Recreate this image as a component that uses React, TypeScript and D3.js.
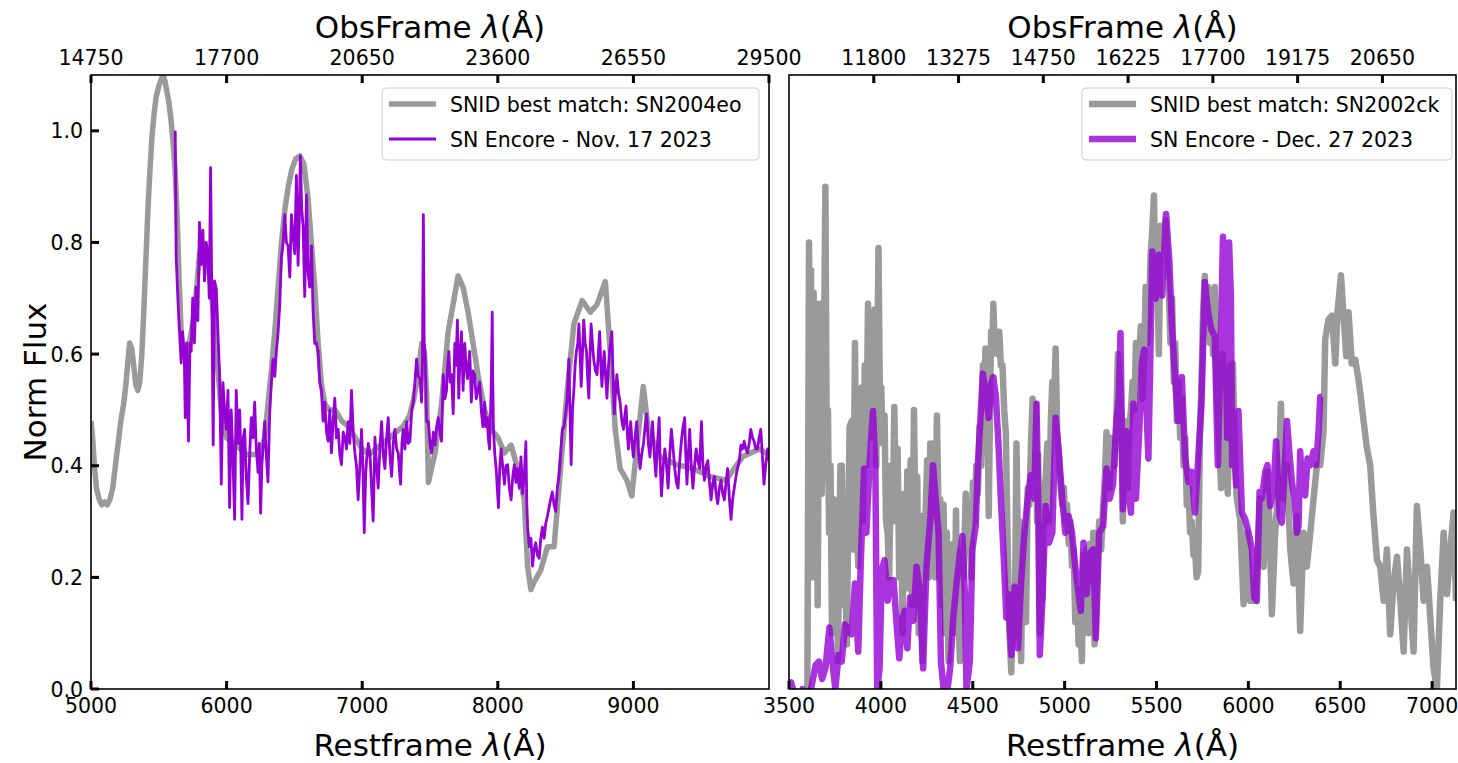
import React from 'react';
import * as d3 from 'd3';

type Pt = [number, number];

// ---------- ticks ----------
const Y_TICKS = [0, 0.2, 0.4, 0.6, 0.8, 1.0];
const LEFT_REST_TICKS = [5000, 6000, 7000, 8000, 9000];
const LEFT_OBS_TICKS = [14750, 17700, 20650, 23600, 26550, 29500];
const RIGHT_REST_TICKS = [3500, 4000, 4500, 5000, 5500, 6000, 6500, 7000];
const RIGHT_OBS_TICKS = [11800, 13275, 14750, 16225, 17700, 19175, 20650];

// ---------- left panel: SN2004eo template ----------
const leftTemplate: Pt[] = [
  [5000,0.48],[5012,0.45],[5025,0.40],[5040,0.36],[5060,0.34],[5080,0.33],[5100,0.335],[5120,0.33],[5140,0.34],
  [5160,0.36],[5180,0.40],[5200,0.44],[5220,0.48],[5240,0.51],[5255,0.54],[5270,0.58],[5285,0.62],[5300,0.61],
  [5315,0.58],[5330,0.545],[5345,0.535],[5360,0.55],[5375,0.60],[5390,0.68],[5405,0.77],[5420,0.86],[5435,0.93],
  [5450,0.99],[5465,1.03],[5480,1.06],[5500,1.08],[5515,1.09],[5530,1.10],[5545,1.09],[5560,1.07],[5575,1.05],
  [5590,1.02],[5605,0.98],[5620,0.93],[5635,0.85],[5650,0.73],[5665,0.64],[5680,0.60],[5700,0.59],[5720,0.61],
  [5740,0.64],[5760,0.67],[5780,0.72],[5800,0.78],[5820,0.80],[5840,0.78],[5860,0.76],[5880,0.73],[5900,0.68],
  [5920,0.62],[5940,0.56],[5960,0.50],[5980,0.47],[6000,0.45],[6050,0.44],[6100,0.43],[6150,0.42],[6200,0.42],
  [6250,0.42],[6280,0.45],[6305,0.51],[6330,0.57],[6355,0.64],[6380,0.72],[6405,0.80],[6430,0.86],[6455,0.90],
  [6480,0.93],[6510,0.95],[6540,0.955],[6570,0.94],[6600,0.88],[6625,0.80],[6650,0.72],[6675,0.62],[6700,0.545],
  [6725,0.51],[6760,0.50],[6800,0.50],[6850,0.48],[6900,0.47],[6950,0.45],[7000,0.43],[7050,0.42],[7100,0.43],
  [7150,0.44],[7200,0.45],[7250,0.46],[7300,0.47],[7350,0.49],[7380,0.52],[7410,0.56],[7440,0.62],[7460,0.60],
  [7475,0.53],[7488,0.37],[7537,0.423],[7585,0.51],[7634,0.64],[7671,0.69],[7707,0.74],[7744,0.72],[7781,0.675],
  [7817,0.62],[7854,0.563],[7902,0.50],[7951,0.465],[8000,0.451],[8049,0.423],[8098,0.437],[8146,0.395],
  [8195,0.339],[8220,0.22],[8244,0.178],[8268,0.192],[8317,0.213],[8366,0.255],[8415,0.255],[8463,0.395],
  [8512,0.535],[8561,0.654],[8622,0.696],[8683,0.675],[8732,0.689],[8793,0.73],[8829,0.605],[8866,0.465],
  [8902,0.395],[8951,0.374],[8988,0.346],[9024,0.43],[9073,0.542],[9110,0.465],[9195,0.416],[9317,0.402],
  [9439,0.395],[9561,0.381],[9683,0.374],[9805,0.416],[9927,0.43],[10000,0.42],
];

// ---------- left panel: SN Encore Nov. 17 2023 ----------
const leftEncore: Pt[] = [
  [5621,1.0],[5628,0.773],[5645,0.675],[5665,0.584],[5675,0.64],[5688,0.60],[5695,0.486],[5705,0.62],[5719,0.444],
  [5730,0.62],[5739,0.605],[5750,0.70],[5763,0.62],[5775,0.72],[5788,0.66],[5800,0.836],[5812,0.76],[5825,0.822],
  [5837,0.731],[5850,0.80],[5862,0.78],[5872,0.70],[5882,0.934],[5892,0.675],[5901,0.437],[5911,0.731],[5924,0.717],
  [5936,0.64],[5948,0.563],[5961,0.367],[5973,0.549],[5985,0.50],[5998,0.465],[6010,0.535],[6022,0.325],[6034,0.50],
  [6046,0.42],[6059,0.304],[6071,0.535],[6084,0.44],[6096,0.50],[6105,0.42],[6113,0.304],[6123,0.45],[6133,0.465],
  [6145,0.38],[6158,0.332],[6170,0.42],[6182,0.486],[6195,0.45],[6207,0.514],[6219,0.43],[6232,0.388],[6241,0.44],
  [6251,0.315],[6260,0.40],[6268,0.43],[6281,0.479],[6293,0.42],[6305,0.371],[6318,0.493],[6330,0.55],[6342,0.591],
  [6355,0.56],[6367,0.605],[6380,0.64],[6392,0.689],[6404,0.773],[6417,0.80],[6429,0.85],[6441,0.80],[6453,0.794],
  [6466,0.738],[6478,0.85],[6490,0.815],[6502,0.78],[6515,0.92],[6527,0.759],[6536,0.84],[6544,0.955],[6554,0.86],
  [6564,0.829],[6576,0.703],[6589,0.885],[6601,0.745],[6613,0.72],[6626,0.794],[6638,0.675],[6650,0.619],[6662,0.62],
  [6675,0.605],[6687,0.55],[6699,0.535],[6712,0.48],[6724,0.514],[6737,0.46],[6749,0.444],[6761,0.50],[6773,0.423],
  [6786,0.48],[6798,0.521],[6810,0.45],[6823,0.465],[6835,0.42],[6847,0.402],[6860,0.46],[6872,0.451],[6884,0.43],
  [6897,0.479],[6909,0.44],[6921,0.535],[6934,0.46],[6946,0.423],[6958,0.40],[6970,0.339],[6983,0.40],[6995,0.465],
  [7005,0.40],[7015,0.28],[7025,0.38],[7032,0.409],[7045,0.44],[7057,0.423],[7069,0.36],[7081,0.301],[7094,0.451],
  [7106,0.40],[7118,0.36],[7130,0.43],[7143,0.479],[7155,0.42],[7167,0.395],[7180,0.45],[7192,0.486],[7204,0.42],
  [7217,0.381],[7229,0.44],[7241,0.465],[7254,0.43],[7266,0.423],[7275,0.39],[7283,0.367],[7293,0.44],[7303,0.465],
  [7315,0.43],[7328,0.479],[7340,0.44],[7352,0.444],[7365,0.50],[7377,0.514],[7389,0.55],[7401,0.591],[7414,0.56],
  [7426,0.556],[7438,0.514],[7445,0.60],[7451,0.85],[7457,0.62],[7463,0.605],[7475,0.479],[7488,0.479],[7500,0.44],
  [7512,0.423],[7525,0.46],[7537,0.437],[7549,0.47],[7561,0.486],[7573,0.46],[7585,0.444],[7598,0.563],[7610,0.52],
  [7622,0.535],[7630,0.58],[7639,0.605],[7649,0.55],[7659,0.563],[7671,0.493],[7683,0.619],[7692,0.58],[7702,0.661],
  [7712,0.521],[7722,0.60],[7732,0.64],[7744,0.535],[7756,0.619],[7766,0.58],[7776,0.556],[7793,0.605],[7805,0.514],
  [7817,0.57],[7829,0.563],[7841,0.52],[7854,0.535],[7866,0.55],[7878,0.50],[7890,0.47],[7902,0.514],[7912,0.47],
  [7922,0.486],[7930,0.45],[7939,0.43],[7951,0.535],[7955,0.60],[7959,0.675],[7963,0.55],[7968,0.465],[7978,0.42],
  [7988,0.395],[7996,0.36],[8005,0.325],[8015,0.40],[8024,0.43],[8036,0.40],[8049,0.367],[8061,0.40],[8073,0.402],
  [8085,0.36],[8098,0.339],[8110,0.38],[8122,0.402],[8134,0.37],[8146,0.395],[8158,0.36],[8171,0.416],[8183,0.35],
  [8195,0.381],[8207,0.443],[8214,0.33],[8220,0.29],[8232,0.255],[8244,0.27],[8256,0.22],[8268,0.25],[8280,0.262],
  [8292,0.24],[8305,0.234],[8317,0.27],[8329,0.29],[8341,0.27],[8354,0.297],[8366,0.31],[8378,0.325],[8390,0.34],
  [8402,0.353],[8415,0.33],[8427,0.318],[8439,0.36],[8451,0.381],[8463,0.42],[8476,0.465],[8488,0.47],[8500,0.493],
  [8512,0.52],[8524,0.591],[8532,0.50],[8541,0.402],[8551,0.50],[8561,0.535],[8570,0.58],[8580,0.605],[8590,0.62],
  [8598,0.654],[8607,0.60],[8615,0.542],[8624,0.60],[8634,0.661],[8644,0.62],[8654,0.605],[8662,0.56],[8671,0.521],
  [8680,0.60],[8688,0.654],[8698,0.62],[8707,0.591],[8720,0.57],[8732,0.563],[8741,0.60],[8751,0.64],[8760,0.58],
  [8768,0.542],[8776,0.58],[8785,0.605],[8795,0.56],[8805,0.521],[8814,0.57],[8824,0.605],[8832,0.62],[8841,0.64],
  [8850,0.56],[8859,0.493],[8868,0.53],[8878,0.563],[8890,0.53],[8902,0.514],[8915,0.48],[8927,0.465],[8937,0.49],
  [8946,0.507],[8955,0.46],[8963,0.43],[8972,0.46],[8980,0.479],[8990,0.44],[9000,0.416],[9012,0.45],[9024,0.479],
  [9036,0.43],[9049,0.395],[9061,0.42],[9073,0.437],[9086,0.47],[9098,0.493],[9110,0.44],[9122,0.416],[9132,0.45],
  [9141,0.479],[9154,0.42],[9166,0.381],[9178,0.44],[9190,0.486],[9198,0.40],[9207,0.346],[9220,0.40],[9232,0.43],
  [9244,0.40],[9256,0.36],[9268,0.42],[9280,0.465],[9293,0.43],[9305,0.395],[9317,0.37],[9329,0.36],[9342,0.41],
  [9354,0.444],[9366,0.47],[9378,0.486],[9386,0.42],[9395,0.367],[9405,0.42],[9415,0.465],[9427,0.40],[9439,0.36],
  [9451,0.40],[9463,0.43],[9475,0.41],[9488,0.395],[9502,0.479],[9513,0.40],[9524,0.374],[9537,0.40],[9549,0.409],
  [9561,0.37],[9573,0.339],[9586,0.37],[9598,0.381],[9610,0.35],[9622,0.332],[9634,0.36],[9646,0.374],[9659,0.35],
  [9671,0.339],[9683,0.37],[9695,0.395],[9708,0.34],[9720,0.304],[9732,0.34],[9744,0.36],[9756,0.38],[9768,0.395],
  [9781,0.41],[9793,0.437],[9805,0.43],[9817,0.444],[9829,0.43],[9841,0.423],[9854,0.44],[9866,0.465],[9878,0.45],
  [9890,0.444],[9902,0.43],[9915,0.43],[9927,0.45],[9939,0.465],[9951,0.42],[9963,0.367],[9975,0.40],[9990,0.43],
  [10000,0.41],
];

// ---------- right panel: SN2002ck template ----------
const rightTemplate: Pt[] = [
  [3600,0.0],[3609,0.80],[3614,0.30],[3620,0.75],[3626,0.20],[3634,0.71],[3642,0.45],[3650,0.69],[3656,0.15],
  [3664,0.60],[3671,0.69],[3678,0.35],[3688,0.50],[3698,0.90],[3705,0.45],[3712,0.50],[3718,0.28],[3726,0.40],
  [3734,0.10],[3743,0.34],[3750,0.20],[3758,0.30],[3766,0.05],[3772,0.22],[3780,0.40],[3787,0.40],[3795,0.15],
  [3805,0.22],[3815,0.08],[3822,0.30],[3830,0.47],[3841,0.48],[3850,0.25],[3859,0.62],[3866,0.35],[3877,0.22],
  [3884,0.50],[3895,0.54],[3902,0.30],[3912,0.58],[3920,0.40],[3930,0.69],[3940,0.45],[3952,0.61],[3960,0.50],
  [3966,0.68],[3975,0.40],[3987,0.79],[3995,0.50],[4002,0.54],[4010,0.44],[4020,0.49],[4028,0.30],[4037,0.28],
  [4045,0.20],[4055,0.40],[4065,0.30],[4073,0.505],[4082,0.35],[4091,0.43],[4100,0.20],[4109,0.34],[4118,0.10],
  [4127,0.35],[4136,0.20],[4144,0.39],[4152,0.18],[4162,0.41],[4170,0.15],[4180,0.50],[4190,0.25],[4198,0.38],
  [4206,0.10],[4216,0.31],[4225,0.05],[4234,0.19],[4242,0.30],[4252,0.41],[4260,0.20],[4269,0.44],[4278,0.30],
  [4287,0.44],[4296,0.20],[4305,0.49],[4314,0.30],[4323,0.34],[4332,0.15],[4341,0.33],[4350,0.10],[4359,0.28],
  [4368,0.05],[4377,0.22],[4386,0.10],[4394,0.26],[4402,0.12],[4409,0.32],[4415,0.10],[4421,0.16],[4430,0.05],
  [4439,0.25],[4450,0.20],[4462,0.35],[4472,0.25],[4484,0.31],[4492,0.20],[4501,0.37],[4510,0.30],[4519,0.40],
  [4528,0.35],[4537,0.47],[4546,0.40],[4555,0.58],[4562,0.50],[4569,0.61],[4578,0.55],[4587,0.31],[4594,0.50],
  [4600,0.64],[4606,0.60],[4612,0.69],[4619,0.62],[4626,0.64],[4635,0.60],[4644,0.64],[4653,0.58],[4662,0.58],
  [4671,0.50],[4680,0.46],[4692,0.22],[4700,0.10],[4710,0.03],[4720,0.18],[4728,0.09],[4738,0.44],[4746,0.25],
  [4755,0.30],[4763,0.05],[4772,0.24],[4781,0.28],[4790,0.12],[4799,0.36],[4808,0.33],[4817,0.44],[4826,0.52],
  [4835,0.38],[4843,0.51],[4850,0.30],[4856,0.42],[4865,0.10],[4872,0.20],[4879,0.16],[4888,0.35],[4897,0.38],
  [4906,0.44],[4915,0.30],[4925,0.48],[4933,0.55],[4942,0.50],[4951,0.61],[4960,0.46],[4969,0.42],[4978,0.36],
  [4987,0.33],[4996,0.36],[5004,0.30],[5013,0.33],[5022,0.26],[5031,0.30],[5040,0.22],[5049,0.25],[5058,0.12],
  [5067,0.18],[5076,0.08],[5085,0.13],[5094,0.05],[5103,0.24],[5112,0.13],[5120,0.25],[5130,0.10],[5138,0.26],
  [5147,0.15],[5156,0.28],[5163,0.08],[5170,0.12],[5180,0.24],[5188,0.30],[5199,0.25],[5210,0.33],[5219,0.38],
  [5228,0.46],[5237,0.42],[5245,0.36],[5254,0.45],[5263,0.44],[5272,0.40],[5281,0.48],[5290,0.60],[5299,0.55],
  [5308,0.50],[5317,0.30],[5326,0.48],[5335,0.46],[5344,0.36],[5352,0.47],[5361,0.50],[5370,0.55],[5380,0.50],
  [5388,0.62],[5397,0.58],[5406,0.60],[5415,0.65],[5424,0.52],[5433,0.60],[5441,0.72],[5450,0.62],[5459,0.66],
  [5468,0.78],[5477,0.82],[5486,0.884],[5495,0.70],[5504,0.75],[5513,0.60],[5522,0.83],[5531,0.80],[5540,0.82],
  [5549,0.84],[5558,0.78],[5567,0.72],[5576,0.62],[5585,0.70],[5594,0.55],[5602,0.62],[5611,0.48],[5620,0.55],
  [5629,0.45],[5638,0.52],[5647,0.40],[5656,0.45],[5665,0.33],[5674,0.36],[5683,0.28],[5692,0.30],[5701,0.24],
  [5709,0.26],[5718,0.20],[5727,0.21],[5736,0.45],[5745,0.55],[5754,0.68],[5763,0.74],[5772,0.66],[5781,0.72],
  [5790,0.62],[5799,0.70],[5808,0.60],[5817,0.72],[5826,0.55],[5834,0.50],[5843,0.42],[5852,0.36],[5861,0.60],
  [5870,0.50],[5879,0.42],[5888,0.35],[5901,0.58],[5916,0.583],[5928,0.401],[5937,0.341],[5955,0.304],[5974,0.152],
  [5992,0.28],[6010,0.158],[6037,0.158],[6064,0.341],[6083,0.219],[6101,0.389],[6115,0.30],[6128,0.134],[6146,0.28],
  [6164,0.365],[6177,0.511],[6191,0.341],[6210,0.401],[6228,0.25],[6246,0.189],[6264,0.31],[6282,0.104],[6300,0.28],
  [6318,0.219],[6337,0.28],[6355,0.341],[6373,0.401],[6391,0.401],[6409,0.462],[6418,0.626],[6436,0.662],[6455,0.669],
  [6473,0.583],[6485,0.675],[6504,0.741],[6518,0.669],[6533,0.596],[6545,0.675],[6563,0.583],[6582,0.59],[6600,0.553],
  [6612,0.523],[6627,0.48],[6645,0.432],[6663,0.401],[6681,0.31],[6700,0.231],[6718,0.219],[6736,0.158],[6754,0.25],
  [6772,0.098],[6790,0.189],[6809,0.237],[6827,0.158],[6845,0.067],[6863,0.25],[6881,0.158],[6899,0.067],[6917,0.328],
  [6936,0.25],[6954,0.158],[6972,0.219],[6990,0.128],[7008,0.037],[7026,0.0],[7044,0.158],[7063,0.28],[7081,0.17],
  [7099,0.25],[7117,0.316],[7130,0.158],
];

// ---------- right panel: SN Encore Dec. 27 2023 ----------
const rightEncore: Pt[] = [
  [3500,0.01],[3511,0.012],[3530,-0.01],[3550,-0.02],[3573,0.0],[3600,-0.02],[3620,0.0],[3645,0.043],[3663,0.049],
  [3680,0.018],[3698,0.037],[3720,0.11],[3734,0.055],[3752,0.0],[3770,0.061],[3787,0.049],[3805,0.116],[3820,0.10],
  [3832,0.11],[3841,0.098],[3859,0.189],[3877,0.067],[3891,0.231],[3909,0.395],[3921,0.28],[3939,0.407],[3957,0.498],
  [3970,0.401],[3980,0.0],[3993,0.037],[4005,0.213],[4020,0.231],[4037,0.158],[4052,0.195],[4069,0.195],[4087,0.11],
  [4100,0.055],[4118,0.128],[4130,0.14],[4144,0.073],[4159,0.164],[4177,0.122],[4194,0.219],[4212,0.176],[4230,0.037],
  [4248,0.219],[4269,0.304],[4284,0.401],[4298,0.34],[4314,0.28],[4327,0.049],[4341,0.0],[4359,-0.01],[4377,0.037],
  [4394,0.128],[4412,0.189],[4430,0.243],[4444,0.274],[4457,0.17],[4466,0.0],[4484,0.049],[4498,0.25],[4516,0.292],
  [4528,0.401],[4541,0.48],[4555,0.565],[4573,0.523],[4587,0.486],[4600,0.547],[4612,0.559],[4626,0.523],[4641,0.432],
  [4653,0.341],[4671,0.219],[4683,0.128],[4692,0.17],[4710,0.061],[4728,0.183],[4746,0.073],[4763,0.189],[4781,0.28],
  [4799,0.341],[4817,0.383],[4835,0.341],[4847,0.511],[4856,0.341],[4865,0.061],[4879,0.158],[4897,0.328],[4915,0.262],
  [4933,0.28],[4951,0.486],[4969,0.42],[4987,0.341],[5004,0.28],[5022,0.31],[5040,0.28],[5058,0.219],[5076,0.17],
  [5088,0.14],[5103,0.262],[5120,0.17],[5138,0.243],[5156,0.25],[5170,0.091],[5188,0.28],[5210,0.292],[5228,0.395],
  [5245,0.341],[5263,0.365],[5281,0.474],[5295,0.523],[5304,0.638],[5317,0.322],[5335,0.462],[5352,0.341],[5361,0.316],
  [5374,0.511],[5388,0.341],[5406,0.462],[5420,0.583],[5433,0.608],[5456,0.413],[5477,0.784],[5495,0.699],[5513,0.778],
  [5531,0.705],[5552,0.851],[5570,0.766],[5585,0.644],[5602,0.553],[5617,0.48],[5638,0.559],[5656,0.413],[5674,0.371],
  [5692,0.389],[5709,0.316],[5727,0.413],[5745,0.511],[5763,0.729],[5781,0.675],[5799,0.644],[5817,0.632],[5834,0.401],
  [5852,0.656],[5862,0.81],[5872,0.70],[5885,0.45],[5895,0.80],[5905,0.70],[5912,0.401],[5919,0.462],[5934,0.365],
  [5946,0.498],[5965,0.316],[5983,0.304],[6001,0.28],[6019,0.25],[6032,0.164],[6046,0.158],[6061,0.353],[6073,0.341],
  [6092,0.389],[6104,0.401],[6119,0.328],[6137,0.359],[6151,0.444],[6170,0.31],[6182,0.298],[6195,0.377],[6210,0.48],
  [6224,0.42],[6237,0.371],[6251,0.341],[6264,0.28],[6273,0.292],[6282,0.426],[6291,0.365],[6309,0.347],[6322,0.413],
  [6337,0.401],[6355,0.426],[6369,0.401],[6382,0.462],[6391,0.523],[6400,0.523],
];

const LEGEND_LEFT = ['SNID best match: SN2004eo', 'SN Encore - Nov. 17 2023'];
const LEGEND_RIGHT = ['SNID best match: SN2002ck', 'SN Encore - Dec. 27 2023'];

const W = 1458;
const H = 763;
const TOP = 75;
const BOTTOM = 689;
const FONT = "'DejaVu Sans', 'Liberation Sans', sans-serif";
const GRAY = '#9a9a9a';
const PURPLE = '#9400D3';

const yScale = d3.scaleLinear().domain([0, 1.1]).range([BOTTOM, TOP]);

type PanelProps = {
  id: string;
  x0: number;
  x1: number;
  restDomain: [number, number];
  obsDomain: [number, number];
  restTicks: number[];
  obsTicks: number[];
  showY: boolean;
  template: Pt[];
  encore: Pt[];
  grayWidth: number;
  purpleWidth: number;
  purpleOpacity: number;
  legend: string[];
  legendX: number;
  legendW: number;
  tickLabelRest: (v: number) => boolean;
};

function Panel(p: PanelProps) {
  const xs = d3.scaleLinear().domain(p.restDomain).range([p.x0, p.x1]);
  const xo = d3.scaleLinear().domain(p.obsDomain).range([p.x0, p.x1]);
  const line = d3.line<Pt>().x(d => xs(d[0])).y(d => yScale(d[1]));
  const tl = 8;
  const tw = 3;
  const lx = p.legendX;
  return (
    <g>
      <defs>
        <clipPath id={p.id}>
          <rect x={p.x0} y={TOP} width={p.x1 - p.x0} height={BOTTOM - TOP} />
        </clipPath>
      </defs>
      <g clipPath={`url(#${p.id})`}>
        <path d={line(p.template) || ''} fill="none" stroke={GRAY} strokeWidth={p.grayWidth} strokeLinejoin="round" />
        <path d={line(p.encore) || ''} fill="none" stroke={PURPLE} strokeOpacity={p.purpleOpacity} strokeWidth={p.purpleWidth} strokeLinejoin="round" />
      </g>
      <rect x={p.x0} y={TOP} width={p.x1 - p.x0} height={BOTTOM - TOP} fill="none" stroke="#000" strokeWidth={1.6} />
      {/* bottom ticks */}
      {p.restTicks.map(t => (
        <g key={'b' + t}>
          <line x1={xs(t)} x2={xs(t)} y1={BOTTOM} y2={BOTTOM - tl} stroke="#000" strokeWidth={tw} />
          {p.tickLabelRest(t) && (
            <text x={xs(t)} y={713} fontSize={20.5} textAnchor="middle" fontFamily={FONT}>{t}</text>
          )}
        </g>
      ))}
      {/* top ticks */}
      {p.obsTicks.map(t => (
        <g key={'t' + t}>
          <line x1={xo(t)} x2={xo(t)} y1={TOP} y2={TOP + tl} stroke="#000" strokeWidth={tw} />
          <text x={xo(t)} y={65} fontSize={20.5} textAnchor="middle" fontFamily={FONT}>{t}</text>
        </g>
      ))}
      {/* y ticks */}
      {p.showY && Y_TICKS.map(t => (
        <g key={'y' + t}>
          <line x1={p.x0} x2={p.x0 + tl} y1={yScale(t)} y2={yScale(t)} stroke="#000" strokeWidth={tw} />
          <text x={p.x0 - 8} y={yScale(t) + 7.5} fontSize={20.5} textAnchor="end" fontFamily={FONT}>{t.toFixed(1)}</text>
        </g>
      ))}
      {/* axis titles */}
      <text x={(p.x0 + p.x1) / 2} y={38} fontSize={31} textAnchor="middle" fontFamily={FONT}>
        ObsFrame <tspan fontStyle="italic">λ</tspan>(Å)
      </text>
      <text x={(p.x0 + p.x1) / 2} y={756} fontSize={31} textAnchor="middle" fontFamily={FONT}>
        Restframe <tspan fontStyle="italic">λ</tspan>(Å)
      </text>
      {/* legend */}
      <rect x={lx} y={88} width={p.legendW} height={72} rx={4} fill="#fff" fillOpacity={0.8} stroke="#cfcfcf" strokeWidth={1} />
      <line x1={lx + 7} x2={lx + 54} y1={104} y2={104} stroke={GRAY} strokeWidth={p.grayWidth} />
      <line x1={lx + 7} x2={lx + 54} y1={139} y2={139} stroke={PURPLE} strokeOpacity={p.purpleOpacity} strokeWidth={p.purpleWidth} />
      <text x={lx + 68} y={111.5} fontSize={20.5} fontFamily={FONT}>{p.legend[0]}</text>
      <text x={lx + 68} y={146.5} fontSize={20.5} fontFamily={FONT}>{p.legend[1]}</text>
    </g>
  );
}

export default function App() {
  return (
    <svg width={W} height={H} style={{ position: 'absolute', left: 0, top: 0, background: '#fff' }}>
      <rect x={0} y={0} width={W} height={H} fill="#fff" />
      <Panel
        id="clipL"
        x0={91}
        x1={769}
        restDomain={[5000, 10000]}
        obsDomain={[14750, 29500]}
        restTicks={LEFT_REST_TICKS}
        obsTicks={LEFT_OBS_TICKS}
        showY={true}
        template={leftTemplate}
        encore={leftEncore}
        grayWidth={5.5}
        purpleWidth={2.8}
        purpleOpacity={1}
        legend={LEGEND_LEFT}
        legendX={382}
        legendW={377}
        tickLabelRest={() => true}
      />
      <Panel
        id="clipR"
        x0={789}
        x1={1456}
        restDomain={[3500, 7130]}
        obsDomain={[10325, 21930]}
        restTicks={RIGHT_REST_TICKS}
        obsTicks={RIGHT_OBS_TICKS}
        showY={false}
        template={rightTemplate}
        encore={rightEncore}
        grayWidth={6.5}
        purpleWidth={6.5}
        purpleOpacity={0.8}
        legend={LEGEND_RIGHT}
        legendX={1082}
        legendW={370}
        tickLabelRest={() => true}
      />
      <text transform={`translate(46, ${(TOP + BOTTOM) / 2}) rotate(-90)`} fontSize={31} textAnchor="middle" fontFamily={FONT}>
        Norm Flux
      </text>
    </svg>
  );
}
